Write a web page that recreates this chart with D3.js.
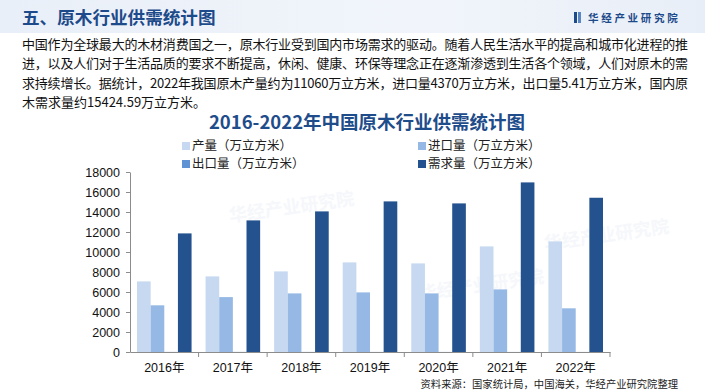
<!DOCTYPE html>
<html>
<head>
<meta charset="utf-8">
<script src="https://cdn.jsdelivr.net/npm/d3@7"></script>
<style>
  body { margin: 0; background: #fff; }
  svg { display: block; font-family: "Noto Sans CJK SC", "Liberation Sans", sans-serif; }
</style>
</head>
<body>
<div id="chart"></div>
<script>
// data (万立方米)
var years = ["2016年", "2017年", "2018年", "2019年", "2020年", "2021年", "2022年"];
var seriesNames = ["产量（万立方米）", "进口量（万立方米）", "出口量（万立方米）", "需求量（万立方米）"];
var output = [7060, 7560, 8060, 8960, 8860, 10560, 11060];
var imports = [4670, 5490, 5860, 5960, 5860, 6260, 4370];
var exports = [8.6, 9.2, 8.0, 6.9, 6.2, 5.8, 5.41];
var demand = [11860, 13160, 14060, 15060, 14860, 16960, 15424.59];
var yTicks = [0, 2000, 4000, 6000, 8000, 10000, 12000, 14000, 16000, 18000];

var colors = ["#c6d9f0", "#95b9e4", "#5f93d3", "#24528f"];
var allSeries = [output, imports, exports, demand];

var introLines = [
  "中国作为全球最大的木材消费国之一，原木行业受到国内市场需求的驱动。随着人民生活水平的提高和城市化进程的推",
  "进，以及人们对于生活品质的要求不断提高，休闲、健康、环保等理念正在逐渐渗透到生活各个领域，人们对原木的需",
  "求持续增长。据统计，2022年我国原木产量约为11060万立方米，进口量4370万立方米，出口量5.41万立方米，国内原",
  "木需求量约15424.59万立方米。"
];

var W = 705, H = 392;
var margin = {top: 172, right: 95, bottom: 40, left: 130},
  width = W - margin.left - margin.right,
  height = H - margin.top - margin.bottom;

var svg = d3.select("#chart").append("svg")
  .attr("width", W)
  .attr("height", H);

// header band
var grad = svg.append("defs").append("linearGradient").attr("id", "hdr");
grad.append("stop").attr("offset", "0%").attr("stop-color", "#e9eff8");
grad.append("stop").attr("offset", "60%").attr("stop-color", "#f1f5fb");
grad.append("stop").attr("offset", "100%").attr("stop-color", "#e8eef7");
svg.append("rect").attr("x", 0).attr("y", 0).attr("width", W).attr("height", 33).attr("fill", "url(#hdr)");

svg.append("text").attr("x", 22).attr("y", 24)
  .text("五、原木行业供需统计图")
  .style("font-size", "17.6px").style("font-weight", "bold").attr("fill", "#1d4a8a");

// logo
svg.append("rect").attr("x", 574).attr("y", 12).attr("width", 3).attr("height", 11).attr("fill", "#1d4a8a");
svg.append("rect").attr("x", 578).attr("y", 12).attr("width", 3).attr("height", 11).attr("fill", "#5b86c2");
svg.append("text").attr("x", 588).attr("y", 22)
  .text("华经产业研究院")
  .style("font-size", "10.5px").style("font-weight", "bold").style("letter-spacing", "2.7px")
  .attr("fill", "#1d4a8a");

// faint watermarks
var marks = [[230, 222], [545, 250], [420, 300]];
marks.forEach(function(m) {
  svg.append("text").attr("transform", "translate(" + m[0] + "," + m[1] + ") rotate(-8)")
    .text("华经产业研究院")
    .style("font-size", "18px").style("font-weight", "bold")
    .attr("fill", "#e3eaf4").attr("opacity", 0.35);
});

// intro paragraph
introLines.forEach(function(line, i) {
  var t = svg.append("text").attr("x", 22).attr("y", 49 + i * 19.3)
    .text(line)
    .style("font-size", "13px").attr("fill", "#111");
  if (i < 3) t.attr("textLength", 666).attr("lengthAdjust", "spacing");
});

// chart title
svg.append("text").attr("x", 367).attr("y", 129).attr("text-anchor", "middle")
  .text("2016-2022年中国原木行业供需统计图")
  .style("font-size", "18.5px").style("font-weight", "bold").attr("fill", "#1f4c8a");

// legend
var legendPos = [[182, 146], [418, 146], [182, 164], [418, 164]];
seriesNames.forEach(function(name, i) {
  var p = legendPos[i];
  svg.append("rect").attr("x", p[0]).attr("y", p[1] - 4).attr("width", 8).attr("height", 8).attr("fill", colors[i]);
  svg.append("text").attr("x", p[0] + 10).attr("y", p[1] + 4.3)
    .text(name).style("font-size", "12.5px").attr("fill", "#222");
});

var g = svg.append("g")
  .attr("transform", "translate(" + margin.left + "," + margin.top + ")");

var x = d3.scaleBand().domain(years).range([0, width]).paddingInner(0).paddingOuter(0);
var xInner = d3.scaleBand().domain(d3.range(allSeries.length)).range([7, x.bandwidth() - 7]);
var y = d3.scaleLinear().domain([0, 18000]).range([height, 0]);

// bars
allSeries.forEach(function(vals, s) {
  g.selectAll(".bar" + s)
    .data(vals)
    .enter()
    .append("rect")
    .attr("class", "bar" + s)
    .attr("x", function(d, i) { return x(years[i]) + xInner(s); })
    .attr("y", function(d) { return y(d); })
    .attr("width", xInner.bandwidth())
    .attr("height", function(d) { return height - y(d); })
    .attr("fill", colors[s]);
});

// y axis
var yAxis = g.append("g")
  .call(d3.axisLeft(y).tickValues(yTicks).tickSize(4).tickSizeOuter(0).tickFormat(d3.format("d")));
yAxis.select(".domain").attr("stroke", "#8c8c8c");
yAxis.selectAll(".tick line").attr("stroke", "#8c8c8c");
yAxis.selectAll("text").attr("x", -10).style("font-size", "12.5px")
  .style("font-family", "'Liberation Sans', Arial, sans-serif").attr("fill", "#111");

// x axis
var xAxis = g.append("g")
  .attr("transform", "translate(0," + height + ")")
  .call(d3.axisBottom(x).tickSize(0).tickSizeOuter(0));
xAxis.select(".domain").attr("stroke", "#8c8c8c");
xAxis.selectAll("text").attr("dy", "1.35em").style("font-size", "12.5px")
  .style("font-family", "'Liberation Sans', 'Noto Sans CJK SC', sans-serif").attr("fill", "#111");

// boundary ticks between categories
g.selectAll(".sep")
  .data(years.slice(1).concat(["end"]))
  .enter()
  .append("line")
  .attr("x1", function(d, i) { return x.step() * (i + 1); })
  .attr("x2", function(d, i) { return x.step() * (i + 1); })
  .attr("y1", height)
  .attr("y2", height + 5)
  .attr("stroke", "#8c8c8c");

// source
svg.append("text").attr("x", 678).attr("y", 388).attr("text-anchor", "end")
  .text("资料来源：国家统计局，中国海关，华经产业研究院整理")
  .style("font-size", "10.3px").attr("fill", "#222");
</script>
</body>
</html>
